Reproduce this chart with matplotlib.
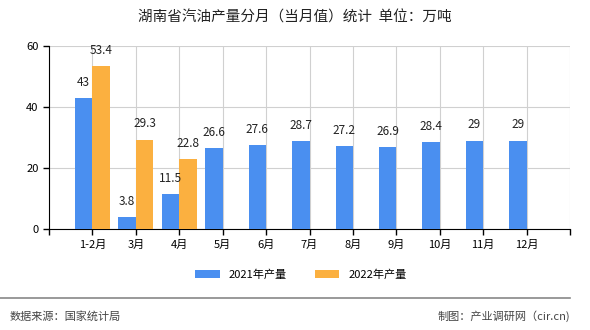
import numpy as np
import matplotlib
matplotlib.use('Agg')
from matplotlib import pyplot as plt

plt.rcParams['font.family'] = ['Noto Sans CJK SC', 'DejaVu Sans']

months = ['1-2月', '3月', '4月', '5月', '6月', '7月', '8月', '9月', '10月', '11月', '12月']
vals_2021 = [43, 3.8, 11.5, 26.6, 27.6, 28.7, 27.2, 26.9, 28.4, 29, 29]
vals_2022 = [53.4, 29.3, 22.8]
labels_2021 = ['43', '3.8', '11.5', '26.6', '27.6', '28.7', '27.2', '26.9', '28.4', '29', '29']
labels_2022 = ['53.4', '29.3', '22.8']

blue = '#4a8ff0'
orange = '#fbb040'
bar_width = 0.4

fig = plt.figure(figsize=(5.9, 3.3), dpi=100)
ax = fig.add_axes([49 / 590, 1 - 229 / 330, 521 / 590, 183 / 330])

x = np.arange(len(months))
x22 = np.arange(len(vals_2022))
ax.bar(x - bar_width / 2, vals_2021, width=bar_width, color=blue, zorder=3, label='2021年产量')
ax.bar(x22 + bar_width / 2, vals_2022, width=bar_width, color=orange, zorder=3, label='2022年产量')

for i, v in enumerate(vals_2021):
    ax.text(i - bar_width / 2, v + 3, labels_2021[i], ha='center', va='bottom', fontsize=8.5, color='#222222')
for i, v in enumerate(vals_2022):
    ax.text(i + bar_width / 2, v + 3, labels_2022[i], ha='center', va='bottom', fontsize=8.5, color='#222222')

ax.set_xlim(-1, 11)
ax.set_ylim(0, 60)
ax.set_yticks([0, 20, 40, 60])
ax.set_xticks(np.arange(-1, 12))
ax.set_xticklabels([''] + months + [''], fontsize=8)
ax.tick_params(axis='y', labelsize=8, length=4, width=1)
ax.tick_params(axis='x', length=4, width=1)
ax.grid(True, color='#d0d0d0', linewidth=0.8, zorder=0)
for s in ['top', 'right']:
    ax.spines[s].set_visible(False)
ax.spines['left'].set_color('black')
ax.spines['bottom'].set_color('black')

fig.text(0.5, 1 - 18 / 330, '湖南省汽油产量分月（当月值）统计  单位：万吨', ha='center', va='center', fontsize=10.5, color='#222222')

fig.legend(loc='center', bbox_to_anchor=(0.51, 1 - 275 / 330), ncol=2, frameon=False, fontsize=8,
           handlelength=2.2, handleheight=0.7, columnspacing=2.5)

fig.add_artist(plt.Line2D([0, 570 / 590], [1 - 298 / 330, 1 - 298 / 330], color='#888888', linewidth=1.2))
fig.text(10 / 590, 1 - 316 / 330, '数据来源：国家统计局', ha='left', va='center', fontsize=8, color='#444444')
fig.text(570 / 590, 1 - 316 / 330, '制图：产业调研网（cir.cn)', ha='right', va='center', fontsize=8, color='#444444')

plt.savefig('out.png', dpi=100)
